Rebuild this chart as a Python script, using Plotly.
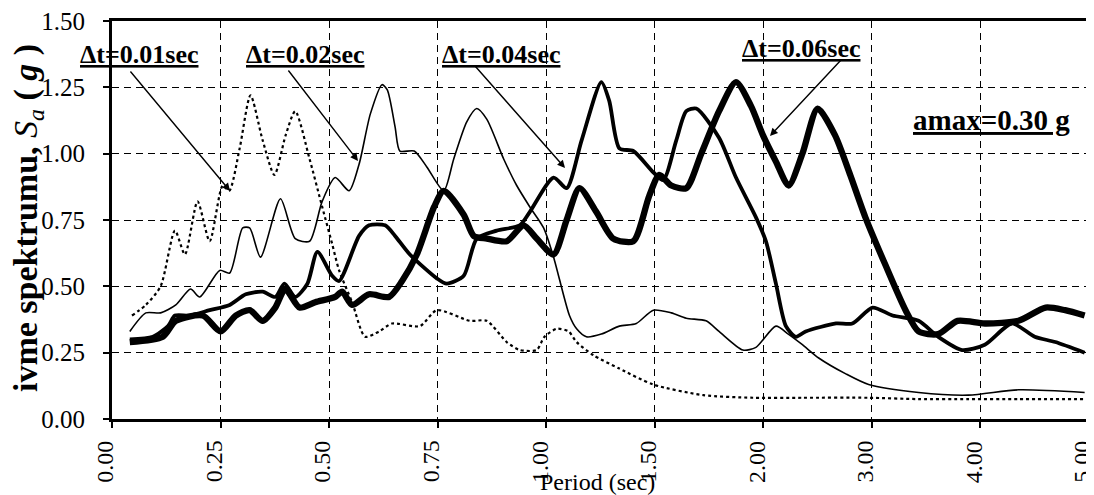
import numpy as np
import plotly.graph_objects as go

# ---- axis definition (non-uniform period axis, equally spaced ticks) ----
tick_periods = [0.0, 0.25, 0.5, 0.75, 1.0, 1.5, 2.0, 3.0, 4.0, 5.0]
tick_labels = ["0.00", "0.25", "0.50", "0.75", "1.00", "1.50", "2.00", "3.00", "4.00", "5.00"]
y_ticks = [0.0, 0.25, 0.5, 0.75, 1.0, 1.25, 1.5]
y_labels = ["0.00", "0.25", "0.50", "0.75", "1.00", "1.25", "1.50"]

# ---- series (period in sec, Sa in g) ----
t_001 = [0.046, 0.078, 0.112, 0.145, 0.168, 0.197, 0.225, 0.255, 0.270, 0.294, 0.319, 0.347,
         0.374, 0.400, 0.422, 0.455, 0.484, 0.507, 0.523, 0.553, 0.583, 0.615, 0.645, 0.709,
         0.748, 0.824, 0.863, 0.909, 0.939, 0.978, 0.996, 1.048, 1.103, 1.140, 1.218, 1.337,
         1.493, 1.723, 1.952, 2.36, 2.97, 3.43, 3.89, 4.35, 4.96]
sa_001 = [0.39, 0.43, 0.50, 0.71, 0.62, 0.82, 0.67, 0.88, 0.86, 1.02, 1.22, 1.05,
          0.92, 1.07, 1.16, 0.98, 0.80, 0.66, 0.56, 0.44, 0.31, 0.33, 0.36, 0.35,
          0.41, 0.37, 0.37, 0.29, 0.26, 0.26, 0.31, 0.34, 0.33, 0.29, 0.24, 0.19,
          0.13, 0.09, 0.08, 0.08, 0.08, 0.075, 0.075, 0.075, 0.075]

t_002 = [0.041, 0.078, 0.112, 0.147, 0.181, 0.202, 0.248, 0.271, 0.301, 0.317, 0.342, 0.388,
         0.422, 0.455, 0.484, 0.514, 0.546, 0.569, 0.595, 0.622, 0.634, 0.652, 0.663, 0.696,
         0.725, 0.764, 0.787, 0.817, 0.840, 0.863, 0.902, 0.932, 0.962, 0.994, 1.034, 1.107,
         1.140, 1.185, 1.254, 1.337, 1.415, 1.493, 1.576, 1.645, 1.736, 1.796, 1.906, 1.966,
         2.116, 2.23, 2.36, 2.51, 2.76, 2.97, 3.43, 3.89, 4.35, 4.96]
sa_002 = [0.33, 0.40, 0.40, 0.43, 0.49, 0.46, 0.56, 0.55, 0.72, 0.72, 0.61, 0.83,
          0.68, 0.67, 0.82, 0.91, 0.86, 0.96, 1.15, 1.26, 1.24, 1.10, 1.01, 1.01,
          0.95, 0.86, 0.98, 1.12, 1.17, 1.13, 0.98, 0.88, 0.80, 0.72, 0.61, 0.39,
          0.34, 0.31, 0.32, 0.35, 0.36, 0.41, 0.40, 0.38, 0.37, 0.33, 0.26, 0.27,
          0.35, 0.32, 0.28, 0.23, 0.17, 0.13, 0.10, 0.09, 0.11, 0.10]

t_004 = [0.041, 0.094, 0.129, 0.145, 0.179, 0.225, 0.271, 0.308, 0.347, 0.376, 0.397, 0.422,
         0.450, 0.473, 0.507, 0.523, 0.569, 0.592, 0.629, 0.652, 0.686, 0.748, 0.771, 0.810,
         0.840, 0.886, 0.939, 0.962, 1.034, 1.094, 1.163, 1.254, 1.290, 1.337, 1.401, 1.493,
         1.539, 1.599, 1.645, 1.691, 1.796, 1.874, 1.966, 2.024, 2.116, 2.208, 2.30, 2.39,
         2.67, 2.82, 3.006, 3.19, 3.43, 3.61, 3.83, 4.04, 4.29, 4.50, 4.69, 4.96]
sa_004 = [0.30, 0.31, 0.35, 0.39, 0.39, 0.41, 0.43, 0.47, 0.48, 0.46, 0.51, 0.46,
          0.51, 0.63, 0.54, 0.52, 0.69, 0.73, 0.73, 0.69, 0.62, 0.53, 0.51, 0.54,
          0.68, 0.71, 0.73, 0.78, 0.91, 0.87, 1.05, 1.27, 1.20, 1.02, 1.01, 0.93,
          0.90, 1.05, 1.16, 1.17, 1.06, 0.91, 0.76, 0.67, 0.51, 0.35, 0.31, 0.33,
          0.36, 0.36, 0.42, 0.39, 0.37, 0.31, 0.26, 0.28, 0.36, 0.31, 0.29, 0.25]

t_006 = [0.041, 0.117, 0.147, 0.209, 0.250, 0.285, 0.317, 0.347, 0.376, 0.399, 0.432, 0.468,
         0.514, 0.530, 0.553, 0.592, 0.638, 0.668, 0.702, 0.742, 0.764, 0.810, 0.833, 0.863,
         0.909, 0.948, 0.978, 1.034, 1.094, 1.153, 1.231, 1.309, 1.401, 1.474, 1.521, 1.576,
         1.645, 1.714, 1.796, 1.874, 1.943, 1.998, 2.116, 2.233, 2.36, 2.50, 2.66, 2.80,
         2.94, 3.125, 3.31, 3.43, 3.61, 3.79, 4.04, 4.35, 4.60, 4.78, 4.96]
sa_006 = [0.29, 0.31, 0.37, 0.39, 0.33, 0.39, 0.41, 0.37, 0.42, 0.49, 0.42, 0.44,
          0.46, 0.48, 0.43, 0.47, 0.46, 0.52, 0.62, 0.80, 0.86, 0.77, 0.69, 0.68,
          0.67, 0.73, 0.68, 0.62, 0.75, 0.87, 0.78, 0.68, 0.67, 0.84, 0.92, 0.88,
          0.87, 1.00, 1.16, 1.27, 1.18, 1.07, 0.97, 0.88, 1.00, 1.17, 1.07, 0.92,
          0.76, 0.58, 0.41, 0.33, 0.32, 0.37, 0.36, 0.37, 0.42, 0.41, 0.39]

tick_pos = list(range(len(tick_periods)))


def axis_pos(periods):
    return np.interp(periods, tick_periods, tick_pos)


SERIF = "Liberation Serif, Times New Roman, serif"

fig = go.Figure()
series = [
    (t_001, sa_001, dict(color="black", width=2.2, dash="3px,3px"), "Δt=0.01sec"),
    (t_002, sa_002, dict(color="black", width=1.6), "Δt=0.02sec"),
    (t_004, sa_004, dict(color="black", width=3.8), "Δt=0.04sec"),
    (t_006, sa_006, dict(color="black", width=6.3), "Δt=0.06sec"),
]
for t, sa, line, name in series:
    fig.add_trace(go.Scatter(x=axis_pos(t), y=sa, mode="lines", name=name,
                             line=dict(shape="spline", smoothing=0.7, **line),
                             showlegend=False, hoverinfo="skip"))

grid = dict(showgrid=True, gridcolor="black", gridwidth=1.3, griddash="7px,5px",
            showline=True, linecolor="black", linewidth=3, mirror=True,
            ticks="outside", ticklen=6, tickcolor="black", tickwidth=1.5,
            zeroline=False, automargin=False, ticklabeloverflow="allow")

fig.update_xaxes(range=[0, 9], tickmode="array", tickvals=tick_pos, ticktext=tick_labels,
                 showticklabels=False, **grid)
fig.update_yaxes(range=[0, 1.5], tickmode="array", tickvals=y_ticks, ticktext=y_labels,
                 ticklabelstandoff=13,
                 tickfont=dict(family=SERIF, size=25, color="black"), **grid)

# rotated period tick labels, centred on their ticks
for pos, lab in zip(tick_pos, tick_labels):
    fig.add_annotation(text=lab, x=pos, xref="x", y=-0.052, yref="paper", textangle=-90,
                       showarrow=False, xanchor="center", yanchor="top", borderpad=0,
                       xshift=-7, font=dict(family=SERIF, size=24, color="black"))

labels = [
    ("Δt=0.01sec", 0.0276, 0.917, 26),
    ("Δt=0.02sec", 0.1975, 0.917, 26),
    ("Δt=0.04sec", 0.3982, 0.917, 26),
    ("Δt=0.06sec", 0.7052, 0.930, 26),
    ("amax=0.30 g", 0.9007, 0.751, 29),
]
for txt, xp, yp, fs in labels:
    fig.add_annotation(text=f"<b><u>{txt}</u></b>", x=xp, y=yp, xref="paper", yref="paper",
                       showarrow=False, font=dict(family=SERIF, size=fs, color="black"),
                       xanchor="center", yanchor="middle")

arrows = [
    (0.1208, 0.5729, -100, -120),
    (0.2518, 0.6482, -70, -91),
    (0.4637, 0.6307, -90, -102),
    (0.6735, 0.7111, 71, -76),
]
for xp, yp, ax, ay in arrows:
    fig.add_annotation(text="", x=xp, y=yp, xref="paper", yref="paper", ax=ax, ay=ay,
                       showarrow=True, arrowhead=2, arrowsize=1.1, arrowwidth=1.4,
                       arrowcolor="black", borderpad=0)

fig.add_annotation(text="Period (sec)", x=0.4974, y=-0.158, xref="paper", yref="paper",
                   showarrow=False, font=dict(family=SERIF, size=24, color="black"),
                   xanchor="center", yanchor="middle")
fig.add_annotation(text="<b>ivme spektrumu, </b><i>S<sub>a</sub></i><b> ( <i>g</i> )</b>",
                   x=-0.086, y=0.505, xref="paper", yref="paper", textangle=-90,
                   showarrow=False, font=dict(family=SERIF, size=34, color="black"),
                   xanchor="center", yanchor="middle")

fig.update_layout(template="none", width=1094, height=495,
                  margin=dict(l=104, r=13, t=13, b=84),
                  plot_bgcolor="white", paper_bgcolor="white")

fig.write_html("out.html")
